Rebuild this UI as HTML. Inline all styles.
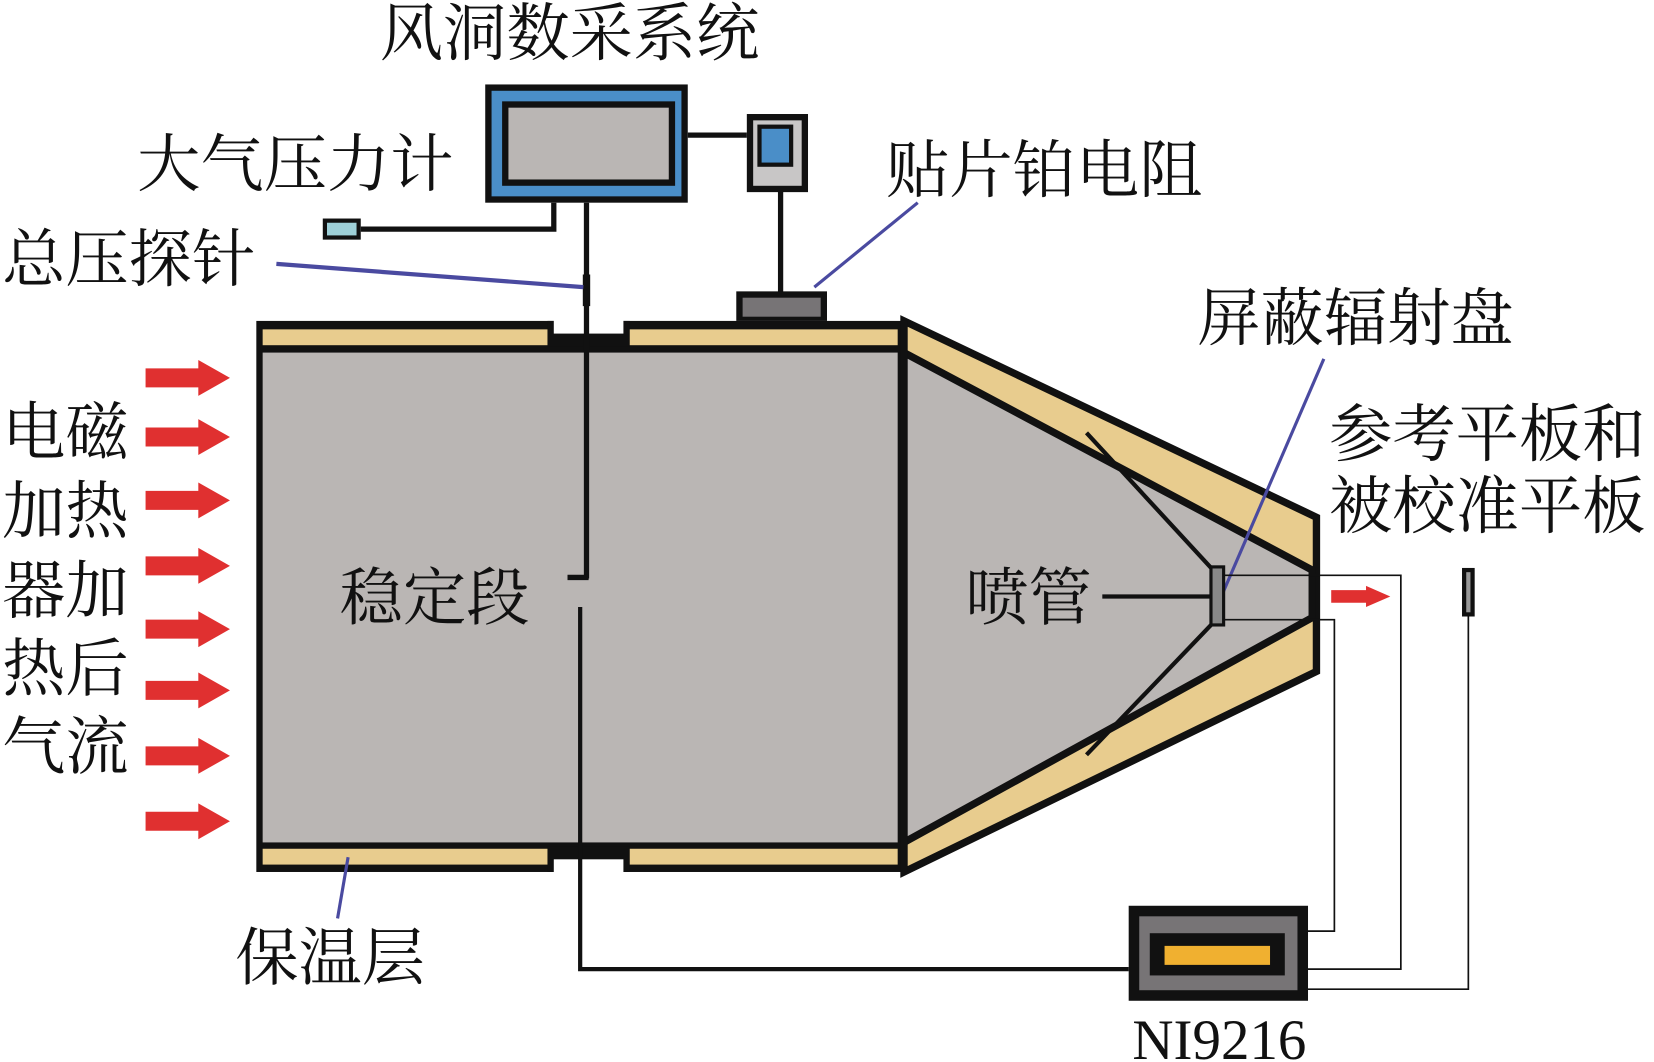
<!DOCTYPE html>
<html><head><meta charset="utf-8"><style>
html,body{margin:0;padding:0;background:#fff}
svg{display:block}
text{font-family:"Liberation Serif","Noto Serif CJK SC","Noto Sans CJK SC",serif;fill:#111}
</style></head><body>
<svg width="1654" height="1062" viewBox="0 0 1568 1006" preserveAspectRatio="none" xmlns="http://www.w3.org/2000/svg">
<defs>
<g id="arr"><path d="M0,-9 L50,-9 L50,-17 L80,0 L50,17 L50,9 L0,9 Z" fill="#e03030"/></g>
</defs>
<text x="540" y="52" font-size="60" text-anchor="middle">风洞数采系统</text>
<text x="280" y="176" font-size="60" text-anchor="middle">大气压力计</text>
<text x="990" y="182" font-size="60" text-anchor="middle">贴片铂电阻</text>
<text x="122" y="266" font-size="60" text-anchor="middle">总压探针</text>
<text x="1285" y="322" font-size="60" text-anchor="middle">屏蔽辐射盘</text>
<text x="1410" y="432" font-size="60" text-anchor="middle">参考平板和</text>
<text x="1410" y="500" font-size="60" text-anchor="middle">被校准平板</text>
<g font-size="60" text-anchor="middle">
<text x="62" y="430">电磁</text><text x="62" y="505">加热</text><text x="62" y="580">器加</text><text x="62" y="654">热后</text><text x="62" y="728">气流</text>
</g>
<text x="313" y="928" font-size="60" text-anchor="middle">保温层</text>
<text x="1156" y="1003" font-size="54" text-anchor="middle">NI9216</text>

<use href="#arr" x="138" y="358"/><use href="#arr" x="138" y="414"/><use href="#arr" x="138" y="474"/><use href="#arr" x="138" y="536"/>
<use href="#arr" x="138" y="596"/><use href="#arr" x="138" y="654"/><use href="#arr" x="138" y="716"/><use href="#arr" x="138" y="778"/>

<rect x="460" y="80" width="192" height="112" fill="#111"/>
<rect x="466" y="86" width="180" height="100" fill="#4a8ec8"/>
<rect x="476" y="96" width="164" height="80" fill="#111"/>
<rect x="482" y="102" width="152" height="68" fill="#bab6b4"/>
<line x1="652" y1="128" x2="708" y2="128" stroke="#111" stroke-width="5"/>
<rect x="708" y="108" width="58" height="74" fill="#111"/>
<rect x="714" y="114" width="46" height="62" fill="#c8c6c6"/>
<rect x="718" y="118" width="34" height="40" fill="#111"/>
<rect x="722" y="122" width="26" height="32" fill="#4a8ec8"/>
<line x1="740" y1="180" x2="740" y2="278" stroke="#111" stroke-width="5"/>
<rect x="306" y="207" width="36" height="20" fill="#111"/><rect x="310" y="211" width="28" height="12" fill="#9ed0d8"/>
<polyline points="342,217 525,217 525,192" fill="none" stroke="#111" stroke-width="5"/>

<rect x="243" y="304" width="614" height="522" fill="#111"/>
<rect x="249" y="312" width="602" height="15" fill="#e8cc8e"/>
<rect x="249" y="334" width="602" height="464" fill="#bab6b4"/>
<rect x="249" y="804" width="602" height="15" fill="#e8cc8e"/>
<!-- notches -->
<rect x="519" y="304" width="78" height="24" fill="#111"/>
<rect x="525" y="300" width="66" height="16" fill="#fff"/>
<rect x="519" y="802" width="78" height="24" fill="#111"/>
<rect x="525" y="814" width="66" height="16" fill="#fff"/>
<polygon points="857,304 1248,490 1248,636 857,826" fill="#e8cc8e" stroke="#111" stroke-width="7" stroke-linejoin="miter"/>
<polygon points="857,334 1244,540 1244,585 857,798" fill="#bab6b4" stroke="#111" stroke-width="7"/>
<line x1="857" y1="304" x2="857" y2="826" stroke="#111" stroke-width="6"/>
<line x1="1030" y1="410" x2="1150" y2="540" stroke="#111" stroke-width="4"/>
<line x1="1150" y1="590" x2="1030" y2="715" stroke="#111" stroke-width="4"/>
<rect x="698" y="276" width="86" height="28" fill="#111"/>
<rect x="704" y="282" width="74" height="18" fill="#777476"/>
<line x1="556" y1="192" x2="556" y2="548" stroke="#111" stroke-width="5"/>
<line x1="538" y1="547" x2="558" y2="547" stroke="#111" stroke-width="5"/>
<polyline points="550,575 550,918 1070,918" fill="none" stroke="#111" stroke-width="4"/>
<line x1="556" y1="260" x2="556" y2="290" stroke="#111" stroke-width="7"/>
<line x1="262" y1="250" x2="553" y2="272" stroke="#4a4aa0" stroke-width="4"/>
<line x1="772" y1="272" x2="870" y2="192" stroke="#4a4aa0" stroke-width="3"/>
<line x1="1255" y1="340" x2="1160" y2="560" stroke="#4a4aa0" stroke-width="3"/>
<line x1="330" y1="812" x2="320" y2="870" stroke="#4a4aa0" stroke-width="3"/>
<text x="975" y="587" font-size="60" text-anchor="middle">喷管</text>
<text x="412" y="587" font-size="60" text-anchor="middle">稳定段</text>
<line x1="1045" y1="565" x2="1150" y2="565" stroke="#111" stroke-width="4"/>
<rect x="1148" y="537" width="12" height="55" fill="#888" stroke="#111" stroke-width="3"/>
<polyline points="1160,545 1328,545 1328,918 1240,918" fill="none" stroke="#111" stroke-width="1.6"/>
<polyline points="1160,587 1265,587 1265,882 1240,882" fill="none" stroke="#111" stroke-width="1.6"/>
<polyline points="1392,582 1392,937 1240,937" fill="none" stroke="#111" stroke-width="1.6"/>
<rect x="1386" y="538" width="12" height="46" fill="#111"/><rect x="1390" y="542" width="4" height="38" fill="#999"/>
<path d="M1262,559 L1295,559 L1295,555 L1318,565 L1295,575 L1295,571 L1262,571 Z" fill="#e03030"/>
<rect x="1070" y="858" width="170" height="90" fill="#111"/>
<rect x="1080" y="868" width="150" height="70" fill="#777476"/>
<rect x="1090" y="884" width="128" height="40" fill="#111"/>
<rect x="1104" y="896" width="100" height="18" fill="#f0b030"/>
</svg>
</body></html>
